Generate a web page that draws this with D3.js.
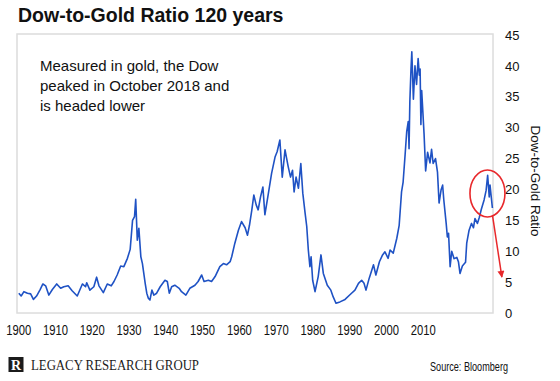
<!DOCTYPE html>
<html>
<head>
<meta charset="utf-8">
<script src="https://cdn.jsdelivr.net/npm/d3@7/dist/d3.min.js"></script>
<style>
  html, body { margin: 0; padding: 0; background: #fff; }
  svg { display: block; }
</style>
</head>
<body>
<svg id="chart" width="560" height="381" font-family="'Liberation Sans', Arial, sans-serif"></svg>
<script>
// ---------- data ----------
const years = [
  1900.2,1900.8,1901.5,1902.4,1903.2,1903.9,1904.7,1905.6,1906.3,1907.0,1907.8,1908.7,1909.8,
  1910.8,1911.6,1912.7,1913.7,1915.0,1916.3,1917.1,1917.4,1918.2,1919.2,1919.9,
  1920.5,1921.6,1922.6,1923.6,1924.3,1925.1,1926.0,1926.8,1927.7,1928.4,1929.0,1929.5,1929.8,
  1930.2,1930.6,1931.1,1931.5,1932.2,1932.6,1933.0,1933.4,1933.9,1934.4,1935.1,1936.0,1937.2,1937.8,1938.3,1938.9,1939.7,
  1940.8,1941.4,1942.5,1943.5,1944.8,1945.6,1946.5,1947.1,1948.2,1949.0,1949.9,
  1951.1,1952.0,1952.8,1953.7,1954.1,1954.9,1955.8,1956.6,1957.5,1958.1,1958.6,1959.2,1959.7,
  1960.3,1960.8,1961.4,1962.0,1962.5,1963.4,1964.2,1965.1,1965.6,1966.3,1966.9,1967.6,1968.4,1969.0,1969.5,1969.9,
  1970.4,1971.0,1971.6,1972.1,1972.7,1973.1,1973.5,1973.9,1974.2,1974.6,1975.2,1976.0,1976.7,1977.3,1978.3,1979.2,1979.8,
  1980.5,1981.5,1982.8,1984.1,1985.3,1986.2,1987.0,1987.6,1988.1,1988.9,
  1990.0,1990.6,1991.5,1992.3,1992.9,1993.7,1994.2,1995.0,1995.9,1996.5,1997.1,1997.5,1998.0,1998.4,1998.8,1999.0,1999.2,1999.5,1999.7,
  2000.1,2000.5,2000.9,2001.3,2001.6,2001.8,2002.0,2002.2,2002.8,2003.2,2003.7,2004.3,2004.7,2005.1,2005.7,2006.2,2006.6,2007.1,2007.5,2007.8,2008.4,2008.7,2009.0,2009.4,2009.8,
  2010.4,2011.1,2011.5,2011.9,2012.5,2013.3,2013.6,2014.2,2014.8,2015.3,2015.7,2016.3,2016.8,2017.3,2018.0,2018.5,2018.9,2019.3,2019.5,2020.1
];
const ratio = [
  3.2,2.75,3.45,3.2,3.1,2.2,2.75,3.8,4.7,4.4,2.9,3.8,4.7,
  4.0,4.25,4.4,3.6,2.75,4.7,4.25,4.9,3.7,4.25,5.8,
  4.4,3.3,4.7,4.4,5.1,6.15,7.6,7.5,8.85,10.3,15.0,15.6,18.4,
  11.8,13.7,9.1,8.0,4.8,3.2,2.4,2.1,3.7,2.9,3.2,4.25,5.3,5.1,3.2,4.25,4.5,
  4.0,3.45,2.9,4.0,4.5,5.1,6.15,5.1,5.3,5.1,5.9,
  7.5,8.0,7.8,8.3,9.1,11.3,13.4,14.8,13.8,12.6,14.2,16.7,19.1,
  17.5,16.7,18.8,20.4,15.9,19.4,22.6,25.3,26.1,28.0,22.0,26.4,23.7,22.0,23.1,19.6,
  22.0,20.2,24.2,19.4,16.1,14.0,10.2,7.5,9.1,5.3,3.45,5.9,9.4,6.4,4.5,3.7,2.6,
  1.57,1.8,2.2,3.0,3.7,4.8,5.3,4.8,3.7,5.6,
  7.8,6.15,8.3,9.4,9.9,8.85,10.2,9.7,12.1,14.2,19.6,21.2,25.6,29.3,31.0,26.6,34.2,39.6,42.3,
  34.6,40.0,37.0,41.2,38.5,39.5,30.5,36.0,29.0,23.0,26.0,24.3,26.5,24.2,25.0,22.8,17.8,19.9,20.7,18.3,14.5,12.3,12.9,7.5,10.0,
  8.8,9.0,8.3,6.4,7.6,8.2,11.3,13.4,14.5,13.8,15.3,14.5,15.5,16.8,18.3,19.8,22.3,18.8,20.7,17.0
];
const xTickLabels = [1900,1910,1920,1930,1940,1950,1960,1970,1980,1990,2000,2010];
const yTicks = [0,5,10,15,20,25,30,35,40,45];
const titleText = "Dow-to-Gold Ratio 120 years";
const noteLines = ["Measured in gold, the Dow", "peaked in October 2018 and", "is headed lower"];
const yTitle = "Dow-to-Gold Ratio";
const sourceText = "Source: Bloomberg";
const brandText = "LEGACY RESEARCH GROUP";
// highlighted peak (Oct 2018) and the "headed lower" target, in data units
const peakMark = { year: 2018.85, value: 19.35 };
const arrowTarget = { year: 2022.5, value: 5.8 };

// ---------- chart ----------
const svg = d3.select("#chart");
const data = years.map((yr, i) => ({ year: yr, v: ratio[i] }));
const SERIF = "'Liberation Serif', 'Times New Roman', serif";
const SANS = "'Liberation Sans', Arial, sans-serif";

const frame = { left: 17, right: 493, top: 34, bottom: 313 };
const x = d3.scaleLinear().domain([1900, 2020]).range([18, 492]);
const xLab = d3.scaleLinear().domain([1900, 2010]).range([18.3, 422.7]);
const y = d3.scaleLinear().domain([0, 45]).range([313, 35]);

// title
svg.append("text").attr("x", 18).attr("y", 22)
  .attr("font-size", 19.5).attr("font-weight", "bold").attr("fill", "#111")
  .text(titleText);

// plot frame
svg.append("rect")
  .attr("x", frame.left).attr("y", frame.top)
  .attr("width", frame.right - frame.left).attr("height", frame.bottom - frame.top)
  .attr("fill", "none").attr("stroke", "#dcdcdc").attr("stroke-width", 1.5);

// note text
svg.append("g").selectAll("text").data(noteLines).join("text")
  .attr("x", 40).attr("y", (d, i) => 70.5 + i * 20)
  .attr("font-size", 15).attr("fill", "#111")
  .text(d => d);

// line
svg.append("path").datum(data)
  .attr("fill", "none").attr("stroke", "#1f52c4").attr("stroke-width", 1.6)
  .attr("stroke-linejoin", "round")
  .attr("d", d3.line().x(d => x(d.year)).y(d => y(d.v)));

// y axis (right)
const yAxis = svg.append("g").attr("transform", `translate(${frame.right},0)`)
  .call(d3.axisRight(y).tickValues(yTicks).tickSize(0).tickPadding(12));
yAxis.attr("font-family", SANS);
yAxis.select(".domain").remove();
yAxis.selectAll("text").attr("font-size", 13).attr("fill", "#111");

// x axis labels
const xAxis = svg.append("g").attr("transform", `translate(0,${frame.bottom})`)
  .call(d3.axisBottom(xLab).tickValues(xTickLabels).tickFormat(d3.format("d")).tickSize(0).tickPadding(12.5));
xAxis.attr("font-family", SANS);
xAxis.select(".domain").remove();
xAxis.selectAll("text").attr("font-size", 14).attr("fill", "#111")
  .attr("textLength", 25).attr("lengthAdjust", "spacingAndGlyphs");

// y axis title (reads top to bottom)
svg.append("text")
  .attr("transform", `translate(531,181) rotate(90)`)
  .attr("text-anchor", "middle").attr("font-size", 13.5).attr("fill", "#111")
  .text(yTitle);

// red ellipse + arrow
const cx = x(peakMark.year), cy = y(peakMark.value), rx = 17.5, ry = 23.5;
svg.append("ellipse").attr("cx", cx).attr("cy", cy).attr("rx", rx).attr("ry", ry)
  .attr("fill", "none").attr("stroke", "#e8282b").attr("stroke-width", 1.6);

const defs = svg.append("defs");
defs.append("marker").attr("id", "arrowhead")
  .attr("viewBox", "0 0 10 10").attr("refX", 9).attr("refY", 5)
  .attr("markerWidth", 10).attr("markerHeight", 7).attr("markerUnits", "userSpaceOnUse")
  .attr("orient", "auto")
  .append("path").attr("d", "M0,0 L10,5 L0,10 Z").attr("fill", "#e8282b");

const theta = 73 * Math.PI / 180;
svg.append("line")
  .attr("x1", cx + rx * Math.cos(theta)).attr("y1", cy + ry * Math.sin(theta))
  .attr("x2", x(arrowTarget.year)).attr("y2", y(arrowTarget.value))
  .attr("stroke", "#e8282b").attr("stroke-width", 1.5)
  .attr("marker-end", "url(#arrowhead)");

// footer
svg.append("rect").attr("x", 8.5).attr("y", 357).attr("width", 15).attr("height", 15).attr("fill", "#1b1b1b");
svg.append("text").attr("x", 16).attr("y", 369.5).attr("text-anchor", "middle")
  .attr("font-family", SERIF)
  .attr("font-size", 14).attr("font-weight", "bold").attr("fill", "#fff").text("R");
svg.append("text").attr("x", 31).attr("y", 370)
  .attr("font-family", SERIF)
  .attr("font-size", 14).attr("fill", "#1b1b1b")
  .attr("textLength", 168).attr("lengthAdjust", "spacingAndGlyphs")
  .text(brandText);
svg.append("text").attr("x", 430).attr("y", 371)
  .attr("font-size", 12).attr("fill", "#111")
  .attr("textLength", 78).attr("lengthAdjust", "spacingAndGlyphs")
  .text(sourceText);
</script>
</body>
</html>
